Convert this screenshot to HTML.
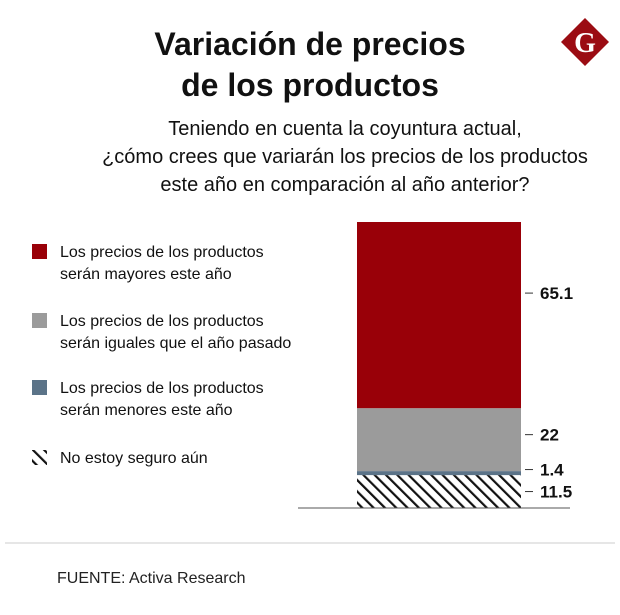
<!DOCTYPE html>
<html><head><meta charset="utf-8"><style>
body{margin:0;background:#fff;width:620px;height:615px;overflow:hidden;font-family:"Liberation Sans",sans-serif;}
svg{display:block}
</style></head><body>
<svg width="620" height="615">
<defs><pattern id="hatch" width="8" height="8" patternUnits="userSpaceOnUse" patternTransform="rotate(-45)"><rect width="8" height="8" fill="#fff"/><rect width="2.2" height="8" fill="#111"/></pattern></defs>
<g font-weight="bold" font-size="32" fill="#111" text-anchor="middle">
<text x="310" y="55">Variación de precios</text><text x="310" y="96">de los productos</text></g>
<g><polygon points="585,18 609,42 585,66 561,42" fill="#9b0c13"/><text x="585" y="52" font-family="Liberation Serif" font-weight="bold" font-size="28" fill="#fff" text-anchor="middle">G</text></g>
<g font-size="20" fill="#111" text-anchor="middle">
<text x="345" y="135">Teniendo en cuenta la coyuntura actual,</text>
<text x="345" y="163">¿cómo crees que variarán los precios de los productos</text>
<text x="345" y="191">este año en comparación al año anterior?</text></g>
<g id="legend" font-size="16" fill="#111"></g>
<g id="bars"></g>
<line x1="298" y1="508" x2="570" y2="508" stroke="#555" stroke-width="1"/>
<line x1="5" y1="543" x2="615" y2="543" stroke="#ccc" stroke-width="1"/>
<text x="57" y="583" font-size="16" fill="#222">FUENTE: Activa Research</text>
</svg>
<script>
const categories=["Los precios de los productos|serán mayores este año","Los precios de los productos|serán iguales que el año pasado","Los precios de los productos|serán menores este año","No estoy seguro aún"];
const values=[65.1,22,1.4,11.5];
const labels=["65.1","22","1.4","11.5"];
const colors=["#990008","#9b9b9b","#5b7388","url(#hatch)"];
const NS="http://www.w3.org/2000/svg";
const top0=222,bottom=508,x0=357,w=164;
const total=values.reduce((a,b)=>a+b,0);
const yScale=v=>v/total*(bottom-top0);
const bars=document.getElementById('bars');
let y=bottom;
const labelY=[];
for(let i=values.length-1;i>=0;i--){
 const h=yScale(values[i]);y-=h;
 const r=document.createElementNS(NS,'rect');
 r.setAttribute('x',x0);r.setAttribute('y',y);r.setAttribute('width',w);r.setAttribute('height',h);r.setAttribute('fill',colors[i]);
 
 
 bars.appendChild(r);
 labelY[i]=y+h/2;
}
labelY[2]=Math.min(labelY[2],labelY[3]-22);
labelY[1]=Math.min(labelY[1]-5,labelY[2]-30);
labelY[0]=Math.min(labelY[0]-22,labelY[1]-140);
for(let i=0;i<values.length;i++){
 const l=document.createElementNS(NS,'line');
 l.setAttribute('x1',525);l.setAttribute('x2',533);l.setAttribute('y1',labelY[i]);l.setAttribute('y2',labelY[i]);l.setAttribute('stroke','#333');
 
 
 bars.appendChild(l);
 const t=document.createElementNS(NS,'text');
 t.setAttribute('x',540);t.setAttribute('y',labelY[i]+6);t.setAttribute('font-size','17');t.setAttribute('font-weight','bold');t.setAttribute('fill','#111');
 t.textContent=labels[i];
 
 
 bars.appendChild(t);
}
const leg=document.getElementById('legend');
const legY=[244,313,380,450];
categories.forEach((c,i)=>{
 const g=document.createElementNS(NS,'g');
 
 
 const r=document.createElementNS(NS,'rect');
 r.setAttribute('x',32);r.setAttribute('y',legY[i]);r.setAttribute('width',15);r.setAttribute('height',15);r.setAttribute('fill',colors[i]);
 g.appendChild(r);
 c.split('|').forEach((line,j)=>{
  const t=document.createElementNS(NS,'text');
  t.setAttribute('x',60);t.setAttribute('y',legY[i]+13+j*22);t.textContent=line;
  g.appendChild(t);
 });
 leg.appendChild(g);
});
</script>
</body></html>
